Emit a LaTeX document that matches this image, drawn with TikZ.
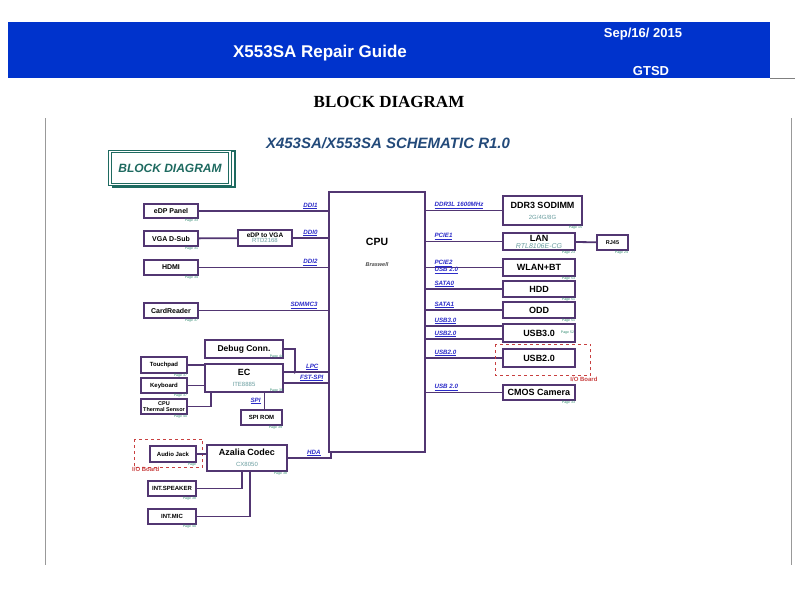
\documentclass[tikz,border=0pt]{standalone}
\usepackage{fontspec}
\setmainfont{Liberation Sans}
\newfontfamily\serifhead{Liberation Serif}
\usepackage{tikz}
\usetikzlibrary{positioning}
\definecolor{boxPurple}{HTML}{523672}
\definecolor{busBlue}{HTML}{2B2BC8}
\definecolor{pageGreen}{HTML}{2E8A6E}
\definecolor{chipGrey}{HTML}{6A9EA0}
\definecolor{ioRed}{HTML}{C84040}
\definecolor{bannerBlue}{HTML}{0033CC}
\definecolor{badgeTeal}{HTML}{1E6A60}
\definecolor{schemBlue}{HTML}{234A7A}
\newcommand{\chipText}[1]{{\mdseries\fontsize{6}{7}\selectfont\color{chipGrey}#1}}
\newcommand{\busText}[1]{\underline{#1}}
\tikzset {
	part/.style={rectangle, draw=boxPurple, line width=1.3pt, fill=white, inner sep=1pt,
					font=\bfseries\fontsize{7}{8}\selectfont, align=center},
	bigPart/.style={part, font=\bfseries\fontsize{9}{10}\selectfont},
	wire/.style={draw=boxPurple, line width=1.8pt},
	bus/.style={font=\bfseries\itshape\fontsize{6.2}{7}\selectfont, text=busBlue, inner sep=1pt},
	pageNote/.style={font=\fontsize{3.5}{4}\selectfont, text=pageGreen, inner sep=0.5pt, anchor=north east},
	ioFrame/.style={draw=ioRed, dashed, line width=0.8pt},
	ioNote/.style={font=\bfseries\fontsize{6}{7}\selectfont, text=ioRed, inner sep=1pt}
}
\begin{document}
\begin{tikzpicture}[x=1pt, y=-1pt]
	\useasboundingbox (0,0) rectangle (800,600);
	% page head
	\fill[bannerBlue] (8,22) rectangle (770,78);
	\draw[gray, line width=1pt] (770,78) -- (795,78);
	\node[font=\bfseries\fontsize{17}{18}\selectfont, text=white] (guideTitle) at (320,53) {X553SA Repair Guide};
	\node[font=\bfseries\fontsize{13}{14}\selectfont, text=white] (guideDate) at (643,34) {Sep/16/ 2015};
	\node[font=\bfseries\fontsize{13}{14}\selectfont, text=white] (guideDept) at (651,71) {GTSD};
	\node[font=\serifhead\bfseries\fontsize{17}{19}\selectfont] (pageTitle) at (389,102) {BLOCK DIAGRAM};
	\draw[gray!80, line width=1pt] (45,118) -- (45,565);
	\draw[gray!80, line width=1pt] (791,118) -- (791,565);
	\node[font=\bfseries\itshape\fontsize{15}{16}\selectfont, text=schemBlue] (schemTitle) at (388,143) {X453SA/X553SA SCHEMATIC R1.0};
	\draw[badgeTeal, line width=1.5pt] (113,151) rectangle (235,187);
	\node[rectangle, draw=badgeTeal, double, double distance=1.2pt, line width=1pt, fill=white,
			minimum width=120, minimum height=33, font=\bfseries\itshape\fontsize{12}{13}\selectfont, text=badgeTeal]
			(badge) at (170,168) {BLOCK DIAGRAM};

	% CPU
	\node[part, minimum width=96, minimum height=260] (cpu) at (377,322) {};
	\node[font=\bfseries\fontsize{10.5}{11}\selectfont, below=43pt of cpu.north] (cpuName) {CPU};
	\node[font=\bfseries\itshape\fontsize{5.5}{6}\selectfont, text=black!70, below=10pt of cpuName] (cpuCode) {Braswell};

	% display and card reader
	\node[part, minimum width=54, minimum height=14] (edp) at (171,211) {eDP Panel};
	\node[part, minimum width=54, minimum height=15] (vga) at (171,238.5) {VGA D-Sub};
	\node[part, minimum width=54, minimum height=16, font=\bfseries\fontsize{6.5}{6}\selectfont] (edpVga) at (265,238) {eDP to VGA\\[-1pt]\chipText{RTD2168}};
	\node[part, minimum width=54, minimum height=15] (hdmi) at (171,267.5) {HDMI};
	\node[part, minimum width=54, minimum height=15] (card) at (171,310.5) {CardReader};
	\draw[wire] (edp) -- (edp -| cpu.west) node[bus, above left=0pt and 9pt] {\busText{DDI1}};
	\draw[wire] (vga) -- (edpVga);
	\draw[wire] (edpVga) -- (edpVga -| cpu.west) node[bus, above left=0pt and 9pt] {\busText{DDI0}};
	\draw[wire] (hdmi) -- (hdmi -| cpu.west) node[bus, above left=0pt and 9pt] {\busText{DDI2}};
	\draw[wire] (card) -- (card -| cpu.west) node[bus, above left=0pt and 9pt] {\busText{SDMMC3}};

	% right side
	\node[bigPart, minimum width=79, minimum height=29] (ddr) at (542.5,210.5) {DDR3 SODIMM\\[1pt]\chipText{2G/4G/8G}};
	\node[bigPart, minimum width=72, minimum height=17] (lan) at (539,241.5) {LAN\\[-3pt]\chipText{\itshape\fontsize{7}{7}\selectfont RTL8106E-CG}};
	\node[part, minimum width=31, minimum height=15, font=\bfseries\fontsize{5.5}{6}\selectfont] (rj) at (612.5,242.5) {RJ45};
	\node[bigPart, minimum width=72, minimum height=17] (wlan) at (539,267.5) {WLAN+BT};
	\node[bigPart, minimum width=72, minimum height=16] (hdd) at (539,289) {HDD};
	\node[bigPart, minimum width=72, minimum height=16] (odd) at (539,310) {ODD};
	\node[bigPart, minimum width=72, minimum height=18] (usbThree) at (539,333) {USB3.0};
	\node[bigPart, minimum width=72, minimum height=18] (usbTwo) at (539,358) {USB2.0};
	\node[bigPart, minimum width=72, minimum height=15] (cmos) at (539,392.5) {CMOS Camera};
	\coordinate (usbThreeA) at ([yshift=7pt]usbThree.west);
	\coordinate (usbThreeB) at ([yshift=-6pt]usbThree.west);
	\draw[wire] (cpu.east |- ddr) node[bus, above right=0pt and 7pt] {\busText{DDR3L 1600MHz}} -- (ddr);
	\draw[wire] (cpu.east |- lan) node[bus, above right=0pt and 7pt] {\busText{PCIE1}} -- (lan);
	\draw[wire] (lan) -- (rj);
	\draw[wire] (cpu.east |- wlan) node[bus, above right=-1pt and 7pt] {\busText{PCIE2}}
		node[bus, below right=-2pt and 7pt] {\busText{USB 2.0}} -- (wlan);
	\draw[wire] (cpu.east |- hdd) node[bus, above right=0pt and 7pt] {\busText{SATA0}} -- (hdd);
	\draw[wire] (cpu.east |- odd) node[bus, above right=0pt and 7pt] {\busText{SATA1}} -- (odd);
	\draw[wire] (usbThreeA -| cpu.east) node[bus, above right=0pt and 7pt] {\busText{USB3.0}} -- (usbThreeA);
	\draw[wire] (usbThreeB -| cpu.east) node[bus, above right=0pt and 7pt] {\busText{USB2.0}} -- (usbThreeB);
	\draw[wire] (cpu.east |- usbTwo) node[bus, above right=0pt and 7pt] {\busText{USB2.0}} -- (usbTwo);
	\draw[wire] (cpu.east |- cmos) node[bus, above right=0pt and 7pt] {\busText{USB 2.0}} -- (cmos);
	\draw[ioFrame] ([shift={(-7,-4)}]usbTwo.north west) rectangle ([shift={(15,8)}]usbTwo.south east) coordinate (usbFrame);
	\node[ioNote, below left=0pt and -8pt of usbFrame] (usbFrameNote) {I/O Board};

	% EC
	\node[bigPart, minimum width=78, minimum height=18, font=\bfseries\fontsize{8.5}{9}\selectfont] (debug) at (244,349) {Debug Conn.};
	\node[bigPart, minimum width=78, minimum height=28] (ec) at (244,378) {EC\\[1pt]\chipText{ITE8885}};
	\node[part, minimum width=46, minimum height=16, font=\bfseries\fontsize{6}{7}\selectfont] (touch) at (164,365) {Touchpad};
	\node[part, minimum width=46, minimum height=15, font=\bfseries\fontsize{6}{7}\selectfont] (kbd) at (164,385.5) {Keyboard};
	\node[part, minimum width=46, minimum height=15, font=\bfseries\fontsize{5.5}{5.5}\selectfont] (therm) at (164,406.5) {CPU\\Thermal Sensor};
	\node[part, minimum width=41, minimum height=15, font=\bfseries\fontsize{6}{7}\selectfont] (spiRom) at (261.5,417.5) {SPI ROM};
	\coordinate (lpcStart) at ([yshift=6pt]ec.east);
	\coordinate (lpcJoin) at ([xshift=11pt]lpcStart);
	\coordinate (fspiStart) at ([yshift=-5pt]ec.east);
	\draw[wire] (debug.east) -| (lpcJoin);
	\fill[boxPurple] (lpcJoin) circle (1.8pt);
	\draw[wire] (lpcStart) -- (lpcStart -| cpu.west) node[bus, above left=0pt and 8pt] {\busText{LPC}};
	\draw[wire] (fspiStart) -- (fspiStart -| cpu.west) node[bus, above left=0pt and 3pt] {\busText{FST-SPI}};
	\draw[wire] (touch) -- (touch -| ec.west);
	\draw[wire] (kbd) -- (kbd -| ec.west);
	\draw[wire] (therm.east) -| ([xshift=7pt]ec.south west);
	\draw[wire] ([xshift=3pt]spiRom.north |- ec.south) -- ([xshift=3pt]spiRom.north) node[bus, midway, left=2pt] {\busText{SPI}};

	% audio
	\node[part, minimum width=46, minimum height=16, font=\bfseries\fontsize{6}{7}\selectfont] (jack) at (173,454) {Audio Jack};
	\node[bigPart, minimum width=80, minimum height=26] (codec) at (247,458) {Azalia Codec\\[1pt]\chipText{CX8050}};
	\node[part, minimum width=48, minimum height=15, font=\bfseries\fontsize{6}{7}\selectfont] (spk) at (172,488.5) {INT.SPEAKER};
	\node[part, minimum width=48, minimum height=15, font=\bfseries\fontsize{6}{7}\selectfont] (mic) at (172,516.5) {INT.MIC};
	\draw[ioFrame] ([shift={(-15,-6)}]jack.north west) rectangle ([shift={(6,5)}]jack.south east);
	\node[ioNote, anchor=north west] (jackNote) at (131,466) {I/O Board};
	\draw[wire] (jack) -- (jack -| codec.west);
	\draw[wire] (codec.east) -| ([xshift=3pt]cpu.south west) node[bus, pos=0.3, above=0pt] {\busText{HDA}};
	\draw[wire] (spk.east) -| ([xshift=-5pt]codec.south);
	\draw[wire] (mic.east) -| ([xshift=3pt]codec.south);

	% page notes
	\node[pageNote] at (edp.south east) {Page 33};
	\node[pageNote] at (vga.south east) {Page 31};
	\node[pageNote] at (hdmi.south east) {Page 34};
	\node[pageNote] at (card.south east) {Page 37};
	\node[pageNote] at (ddr.south east) {Page 15};
	\node[pageNote] at (lan.south east) {Page 23};
	\node[pageNote] at (rj.south east) {Page 24};
	\node[pageNote] at (wlan.south east) {Page 53};
	\node[pageNote] at (hdd.south east) {Page 51};
	\node[pageNote] at (odd.south east) {Page 51};
	\node[pageNote, anchor=east] at ([xshift=-1pt]usbThree.east) {Page 52};
	\node[pageNote] at (cmos.south east) {Page 33};
	\node[pageNote, anchor=south east] at (debug.south east) {Page 44};
	\node[pageNote, anchor=south east] at (ec.south east) {Page 39};
	\node[pageNote] at (touch.south east) {Page 37};
	\node[pageNote] at (kbd.south east) {Page 37};
	\node[pageNote] at (therm.south east) {Page 40};
	\node[pageNote] at (spiRom.south east) {Page 39};
	\node[pageNote] at (jack.south east) {Page};
	\node[pageNote] at (codec.south east) {Page 38};
	\node[pageNote] at (spk.south east) {Page 38};
	\node[pageNote] at (mic.south east) {Page 40};
\end{tikzpicture}
\end{document}
